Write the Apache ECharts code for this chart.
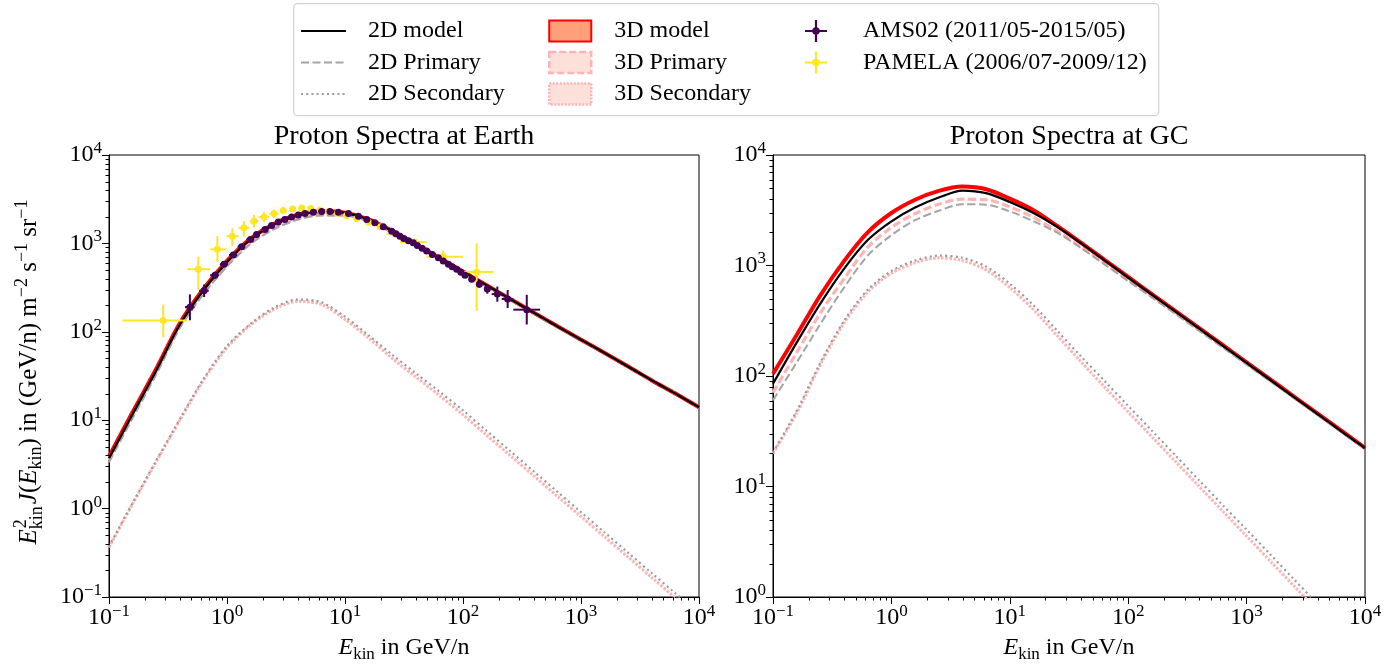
<!DOCTYPE html>
<html>
<head>
<meta charset="utf-8">
<script src="https://cdn.jsdelivr.net/npm/echarts@6/dist/echarts.min.js"></script>
<style>
  html, body { margin: 0; padding: 0; background: #fff; }
  #chart { width: 1395px; height: 668px; }
</style>
</head>
<body>
<div id="chart"></div>
<script>
// ---- model energy grid (GeV/n) ----
const energy = [0.1, 0.158, 0.251, 0.398, 0.631, 1, 1.585, 2.512, 3.981, 6.31, 10, 15.85, 25.12, 39.81, 63.1, 100, 158.5, 251.2, 398.1, 631, 1000, 1585, 2512, 3981, 6310, 10000];

// ---- proton spectra at Earth, E^2 J ----
const earth2DModel = [3.72, 11.6, 36.3, 120, 295, 617, 1109, 1641, 2089, 2291, 2213, 1862, 1380, 977, 684, 479, 335, 234, 164, 115, 81.3, 57.5, 40.3, 28.2, 20.0, 14.0];
const earth2DPrimary = [3.35, 10.45, 32.8, 109.8, 266, 548, 986, 1453, 1857, 2075, 2065, 1771, 1325, 943, 663, 466, 327, 229.5, 161.4, 113.5, 80.4, 57.0, 40.0, 28.0, 19.9, 13.9];
const earth2DSecondary = [0.372, 1.148, 3.467, 10.23, 29.2, 69.2, 123, 188, 232, 216, 148, 91.2, 55.0, 33.9, 21.1, 12.9, 7.59, 4.47, 2.63, 1.549, 0.912, 0.537, 0.316, 0.186, 0.110, 0.0646];
const earth3DModel = [3.89, 12.2, 38.0, 125, 305, 635, 1135, 1670, 2110, 2310, 2230, 1870, 1385, 980, 686, 480, 336, 235, 164.5, 115.3, 81.5, 57.6, 40.4, 28.2, 20.0, 14.0];
const earth3DPrimary = [3.53, 11.1, 34.6, 115, 277, 569, 1015, 1490, 1889, 2106, 2092, 1785, 1335, 949, 667, 468.5, 329, 231, 162.2, 113.9, 80.7, 57.1, 40.1, 28.0, 19.9, 13.9];
const earth3DSecondary = [0.363, 1.122, 3.388, 10.0, 28.2, 66.1, 120, 180, 221, 204, 138, 85.1, 50.1, 30.9, 19.05, 11.48, 6.76, 3.98, 2.344, 1.380, 0.813, 0.479, 0.282, 0.166, 0.0977, 0.0575];

// ---- proton spectra at the Galactic centre ----
const gc2DModel = [85.1, 199.5, 452, 933, 1698, 2512, 3350, 4121, 4764, 4519, 3758, 2985, 2239, 1592, 1112, 778, 546, 382, 268, 187.5, 131.2, 92.0, 64.4, 45.2, 31.6, 22.2];
const gc2DPrimary = [60.3, 131.8, 295, 631, 1230, 1884, 2570, 3126, 3589, 3548, 3090, 2512, 1982, 1442, 1021, 724, 514, 363, 256.4, 180.7, 127.1, 89.5, 63.0, 44.3, 31.1, 21.9];
const gc2DSecondary = [20.4, 47.9, 131.8, 316, 603, 891, 1109, 1230, 1175, 977, 684, 437, 257, 151, 90.2, 53.7, 32.0, 19.05, 11.35, 6.76, 4.07, 2.43, 1.445, 0.861, 0.513, 0.305];
const gc3DModel = [104.7, 234, 537, 1096, 1995, 2985, 3936, 4732, 5176, 4898, 4027, 3162, 2280, 1614, 1125, 787, 552, 386, 271, 190, 133, 93.1, 65.2, 45.7, 32.0, 22.4];
const gc3DPrimary = [70.8, 162.2, 371.5, 758.6, 1462, 2213, 2951, 3589, 3981, 3936, 3388, 2723, 2046, 1479, 1045, 740, 524, 370, 261, 183.7, 129.1, 91.0, 64.0, 45.0, 31.6, 22.2];
const gc3DSecondary = [19.95, 45.7, 125.9, 302, 575, 851, 1059, 1175, 1109, 912, 631, 398, 232, 135, 79.4, 47.3, 28.2, 16.8, 10.0, 5.96, 3.55, 2.11, 1.259, 0.75, 0.447, 0.266];

// ---- AMS02 proton data ----
const amsEnergy = [0.485, 0.64, 0.79, 0.944, 1.13, 1.33, 1.58, 1.78, 2.10, 2.39, 2.72, 3.09, 3.53, 4.02, 4.58, 5.39, 6.34, 7.46, 8.78, 10.7, 13.0, 15.3, 17.9, 21.1, 24.9, 27.0, 29.2, 31.5, 34.5, 37.9, 41.0, 45.0, 49.2, 55.0, 61.8, 68.0, 75.2, 81.0, 88.4, 96.0, 104, 118.5, 137.5, 160.7, 195.4, 239, 347];
const amsFlux = [190, 291, 437, 581, 740, 919, 1109, 1259, 1435, 1592, 1750, 1862, 1995, 2099, 2173, 2249, 2291, 2291, 2249, 2173, 2028, 1862, 1710, 1542, 1374, 1288, 1208, 1135, 1072, 1019, 944, 881, 820, 750, 690, 631, 581, 543, 511, 473, 437, 394, 346, 304, 267, 235, 178];
const amsEnergyLow = [0.44, 0.58, 0.72, 0.87, 1.04, 1.23, 1.46, 1.70, 1.96, 2.24, 2.56, 2.91, 3.33, 3.80, 4.33, 5.09, 5.98, 7.04, 8.30, 10.1, 12.3, 14.5, 16.9, 19.9, 23.5, 26.0, 28.1, 30.3, 33.2, 36.4, 39.4, 43.2, 47.2, 52.8, 59.3, 65.3, 72.2, 77.8, 84.9, 92.2, 100, 113, 131, 152, 175, 213, 267];
const amsEnergyHigh = [0.53, 0.70, 0.86, 1.02, 1.22, 1.43, 1.70, 1.90, 2.24, 2.54, 2.88, 3.27, 3.73, 4.25, 4.84, 5.69, 6.70, 7.88, 9.26, 11.3, 13.7, 16.1, 18.9, 22.3, 26.3, 28.0, 30.3, 32.7, 35.8, 39.4, 42.6, 46.8, 51.2, 57.2, 64.3, 70.7, 78.2, 84.2, 91.9, 99.8, 108, 124, 144, 170, 220, 267, 450];
const amsFluxLow = [135, 247, 400, 550, 710, 890, 1080, 1230, 1405, 1560, 1715, 1825, 1955, 2060, 2130, 2205, 2245, 2245, 2205, 2130, 1985, 1825, 1675, 1510, 1345, 1260, 1180, 1110, 1045, 990, 920, 855, 795, 725, 665, 606, 556, 518, 485, 447, 410, 365, 315, 270, 219, 186, 121];
const amsFluxHigh = [265, 343, 477, 614, 770, 950, 1140, 1290, 1465, 1625, 1785, 1900, 2035, 2140, 2215, 2295, 2340, 2340, 2295, 2215, 2070, 1900, 1745, 1575, 1405, 1315, 1235, 1160, 1100, 1045, 970, 905, 845, 775, 715, 656, 606, 568, 537, 499, 464, 423, 377, 338, 325, 297, 262];

// ---- PAMELA proton data ----
const pamelaEnergy = [0.288, 0.571, 0.828, 1.11, 1.39, 1.69, 2.06, 2.50, 3.0, 3.6, 4.3, 5.12, 6.14, 7.22, 8.61, 10.3, 12.6, 15.8, 19.8, 26.5, 39.2, 68, 130.6];
const pamelaFlux = [134, 511, 857, 1208, 1500, 1782, 1995, 2173, 2350, 2455, 2518, 2480, 2390, 2290, 2190, 2065, 1910, 1738, 1542, 1285, 1035, 708, 476];
const pamelaEnergyLow = [0.13, 0.46, 0.72, 0.99, 1.25, 1.55, 1.85, 2.28, 2.9, 3.5, 4.15, 4.95, 5.95, 7.0, 8.35, 10.0, 12.2, 15.3, 19.2, 22.5, 29.2, 49.2, 100.7];
const pamelaEnergyHigh = [0.46, 0.72, 0.99, 1.25, 1.55, 1.85, 2.28, 2.74, 3.1, 3.7, 4.45, 5.3, 6.35, 7.45, 8.9, 10.6, 13.0, 16.3, 20.4, 29.2, 49.2, 100.7, 180.7];
const pamelaFluxLow = [87, 299, 617, 930, 1189, 1500, 1750, 1950, 2280, 2380, 2440, 2405, 2320, 2220, 2125, 2000, 1850, 1680, 1490, 1180, 950, 600, 173];
const pamelaFluxHigh = [203, 708, 1208, 1480, 1782, 2100, 2270, 2420, 2420, 2530, 2595, 2555, 2460, 2360, 2255, 2130, 1970, 1800, 1595, 1400, 1120, 830, 1000];

// ---- axes ----
const xTickExponents = [-1, 0, 1, 2, 3, 4];
const yTickExponentsEarth = [-1, 0, 1, 2, 3, 4];
const yTickExponentsGC = [0, 1, 2, 3, 4];
const minorMantissas = [2, 3, 4, 5, 6, 7, 8, 9];

const FONT = '"Liberation Serif", "DejaVu Serif", serif';
const TICK_SIZE = 24, SUP_SIZE = 17;
const YT_SIZE = 25, YT_SMALL = 18;

const C_BLACK = '#000000';
const C_GRAY = '#a4a4a4';
const C_GRAY_DOT = '#9a9a9a';
const C_RED = '#ff0000';
const C_PINK = '#ffb4b4';
const C_AMS = '#440154';
const C_PAMELA = '#fde725';

function expText(v) {
  const e = Math.round(Math.log10(v));
  return e < 0 ? '\u2212' + Math.abs(e) : String(e);
}

const tickRich = {
  b: { fontFamily: FONT, fontSize: TICK_SIZE, lineHeight: 30, color: '#000' },
  s: { fontFamily: FONT, fontSize: SUP_SIZE, lineHeight: 17, verticalAlign: 'top', color: '#000' }
};

function logAxis(gridIndex, exps, isX) {
  const ax = {
    type: 'log', logBase: 10, gridIndex,
    min: Math.pow(10, exps[0]), max: Math.pow(10, exps[exps.length - 1]),
    splitNumber: exps.length - 1,
    axisLine: { show: true, onZero: false, lineStyle: { color: '#000', width: 1 } },
    axisTick: { show: true, length: 7, inside: false, lineStyle: { color: '#000', width: 1 } },
    splitLine: { show: false },
    minorTick: { show: false },
    axisLabel: {
      show: true, margin: isX ? 6 : 7, interval: 0, hideOverlap: false,
      showMinLabel: true, showMaxLabel: true,
      formatter: v => '{b|10}{s|' + expText(v) + '}',
      rich: tickRich
    }
  };
  if (isX) {
    ax.name = '{it|E}{sub|kin}{n| in GeV/n}';
    ax.nameLocation = 'middle';
    ax.nameGap = 36;
    ax.nameTextStyle = {
      rich: {
        it: { fontFamily: FONT, fontSize: TICK_SIZE, fontStyle: 'italic', lineHeight: 30, color: '#000' },
        sub: { fontFamily: FONT, fontSize: SUP_SIZE, lineHeight: 17, verticalAlign: 'bottom', color: '#000' },
        n: { fontFamily: FONT, fontSize: TICK_SIZE, lineHeight: 30, color: '#000' }
      }
    };
  }
  return ax;
}

function minorTicks(gridIdx, dim, exps, fixedValue) {
  const vals = [];
  exps.slice(0, -1).forEach(e => minorMantissas.forEach(m => vals.push(m * Math.pow(10, e))));
  return {
    type: 'custom', xAxisIndex: gridIdx, yAxisIndex: gridIdx, silent: true, clip: false, z: 10,
    data: vals.map(v => dim === 'x' ? [v, fixedValue] : [fixedValue, v]),
    renderItem: (params, api) => {
      const p = api.coord([api.value(0), api.value(1)]);
      const shape = dim === 'x'
        ? { x1: Math.round(p[0]) + 0.5, y1: p[1], x2: Math.round(p[0]) + 0.5, y2: p[1] + 3.5 }
        : { x1: p[0] - 3.5, y1: Math.round(p[1]) + 0.5, x2: p[0], y2: Math.round(p[1]) + 0.5 };
      return { type: 'line', shape, style: { stroke: '#000', lineWidth: 1 } };
    }
  };
}

function curve(name, values, gridIdx, color, width, type, z) {
  return {
    name, type: 'line', xAxisIndex: gridIdx, yAxisIndex: gridIdx,
    data: energy.map((e, i) => [e, values[i]]),
    symbol: 'none', showSymbol: false, smooth: 0.3, clip: true,
    lineStyle: { color, width, type, cap: 'butt' },
    itemStyle: { color }, z, silent: true
  };
}

function errorBars(E, F, Elo, Ehi, Flo, Fhi, color, z) {
  return {
    type: 'custom', xAxisIndex: 0, yAxisIndex: 0, silent: true, clip: true, z,
    encode: { x: 0, y: 1 },
    data: E.map((e, i) => [e, F[i], Elo[i], Ehi[i], Flo[i], Fhi[i]]),
    renderItem: (params, api) => {
      const c = api.coord([api.value(0), api.value(1)]);
      const l = api.coord([api.value(2), api.value(1)]);
      const r = api.coord([api.value(3), api.value(1)]);
      const b = api.coord([api.value(0), api.value(4)]);
      const t = api.coord([api.value(0), api.value(5)]);
      return {
        type: 'group', children: [
          { type: 'line', shape: { x1: l[0], y1: c[1], x2: r[0], y2: c[1] }, style: { stroke: color, lineWidth: 2 } },
          { type: 'line', shape: { x1: c[0], y1: b[1], x2: c[0], y2: t[1] }, style: { stroke: color, lineWidth: 2 } }
        ]
      };
    }
  };
}

function points(name, E, F, color, z) {
  return {
    name, type: 'scatter', xAxisIndex: 0, yAxisIndex: 0,
    data: E.map((e, i) => [e, F[i]]),
    symbol: 'circle', symbolSize: 7, itemStyle: { color, opacity: 1 }, z, silent: true, clip: true
  };
}

const DASH = [8, 3.5];
const DOT_GRAY = [2, 3.2];
const DOT_PINK = [2.5, 1.6];

const series = [];
[[0, earth3DModel, earth3DPrimary, earth3DSecondary, earth2DModel, earth2DPrimary, earth2DSecondary],
 [1, gc3DModel, gc3DPrimary, gc3DSecondary, gc2DModel, gc2DPrimary, gc2DSecondary]].forEach(p => {
  const g = p[0];
  series.push(curve('3D Secondary', p[3], g, C_PINK, 3, DOT_PINK, 2));
  series.push(curve('3D Primary', p[2], g, C_PINK, 3.2, DASH, 2));
  series.push(curve('3D model', p[1], g, C_RED, 4, 'solid', 3));
  series.push(curve('2D Secondary', p[6], g, C_GRAY_DOT, 2.2, DOT_GRAY, 4));
  series.push(curve('2D Primary', p[5], g, C_GRAY, 2, DASH, 4));
  series.push(curve('2D model', p[4], g, C_BLACK, 2.2, 'solid', 5));
});
series.push(errorBars(pamelaEnergy, pamelaFlux, pamelaEnergyLow, pamelaEnergyHigh, pamelaFluxLow, pamelaFluxHigh, C_PAMELA, 6));
series.push(points('PAMELA (2006/07-2009/12)', pamelaEnergy, pamelaFlux, C_PAMELA, 6));
series.push(errorBars(amsEnergy, amsFlux, amsEnergyLow, amsEnergyHigh, amsFluxLow, amsFluxHigh, C_AMS, 7));
series.push(points('AMS02 (2011/05-2015/05)', amsEnergy, amsFlux, C_AMS, 7));
series.push(minorTicks(0, 'x', xTickExponents, Math.pow(10, yTickExponentsEarth[0])));
series.push(minorTicks(0, 'y', yTickExponentsEarth, Math.pow(10, xTickExponents[0])));
series.push(minorTicks(1, 'x', xTickExponents, Math.pow(10, yTickExponentsGC[0])));
series.push(minorTicks(1, 'y', yTickExponentsGC, Math.pow(10, xTickExponents[0])));

// ---- legend ----
const legendText = { fontFamily: FONT, fontSize: 24, lineHeight: 24, color: '#000' };
// plus-shaped error-bar glyph with a round marker, both wound the same way
const CROSS_PATH = 'path://M9,0h2v9h9v2h-9v9h-2v-9h-9v-2h9z M6.6,10a3.4,3.4 0 1,1 6.8,0a3.4,3.4 0 1,1 -6.8,0z';
const hiddenMarker = { opacity: 0 };
const legends = [
  {
    left: 300, top: 19, orient: 'vertical', itemGap: 7.5, itemWidth: 45, itemHeight: 14, padding: 0,
    selectedMode: false, textStyle: Object.assign({ padding: [0, 0, 0, 17] }, legendText),
    itemStyle: hiddenMarker,
    data: [
      { name: '2D model', itemStyle: hiddenMarker },
      { name: '2D Primary', itemStyle: hiddenMarker },
      { name: '2D Secondary', itemStyle: hiddenMarker }
    ]
  },
  {
    left: 548, top: 19, orient: 'vertical', itemGap: 7.5, itemWidth: 42, itemHeight: 21, padding: 0,
    selectedMode: false, textStyle: Object.assign({ padding: [0, 0, 0, 18] }, legendText),
    data: [
      { name: '3D model', icon: 'rect', itemStyle: { color: '#ffa07a', borderColor: C_RED, borderWidth: 2 } },
      { name: '3D Primary', icon: 'rect', itemStyle: { color: '#fde0da', borderColor: C_PINK, borderWidth: 2.5, borderType: [7, 3] } },
      { name: '3D Secondary', icon: 'rect', itemStyle: { color: '#fde0da', borderColor: C_PINK, borderWidth: 2.5, borderType: [2, 1.5] } }
    ]
  },
  {
    left: 805, top: 19, orient: 'vertical', itemGap: 7.5, itemWidth: 22, itemHeight: 22, padding: 0,
    selectedMode: false, textStyle: Object.assign({ padding: [0, 0, 0, 31] }, legendText),
    data: [
      { name: 'AMS02 (2011/05-2015/05)', icon: CROSS_PATH, itemStyle: { color: C_AMS } },
      { name: 'PAMELA (2006/07-2009/12)', icon: CROSS_PATH, itemStyle: { color: C_PAMELA } }
    ]
  }
];

// ---- y-axis title, built from pieces so that the exponent sits above the subscript ----
const measureCtx = document.createElement('canvas').getContext('2d');
function textWidth(str, size, italic) {
  measureCtx.font = (italic ? 'italic ' : '') + size + 'px "Liberation Serif"';
  return measureCtx.measureText(str).width;
}
const yTitleTail = [
  ['it', 'J'], ['n', '('], ['it', 'E'], ['sub', 'kin'], ['n', ') in (GeV/n) m'],
  ['sup', '\u22122'], ['n', ' s'], ['sup', '\u22121'], ['n', ' sr'], ['sup', '\u22121']
];
const wE = textWidth('E', YT_SIZE, true);
const wKin = textWidth('kin', YT_SMALL, false);
const wTail = yTitleTail.reduce((s, t) => s + textWidth(t[1], (t[0] === 'sub' || t[0] === 'sup') ? YT_SMALL : YT_SIZE, t[0] === 'it'), 0);
const wTotal = wE + wKin + 2 + wTail;
const x0 = -wTotal / 2;
const titleRich = {
  it: { fontFamily: FONT, fontSize: YT_SIZE, fontStyle: 'italic', lineHeight: 32, fill: '#000' },
  n: { fontFamily: FONT, fontSize: YT_SIZE, lineHeight: 32, fill: '#000' },
  sub: { fontFamily: FONT, fontSize: YT_SMALL, lineHeight: 18, verticalAlign: 'bottom', fill: '#000' },
  sup: { fontFamily: FONT, fontSize: YT_SMALL, lineHeight: 18, verticalAlign: 'top', fill: '#000' }
};

const graphic = [
  {
    type: 'rect', left: 293, top: 3, z: 0, silent: true,
    shape: { width: 865, height: 112, r: 4 },
    style: { fill: 'rgba(255,255,255,0.8)', stroke: '#d4d4d4', lineWidth: 1.3 }
  },
  {
    type: 'text', x: 404, y: 137, silent: true,
    style: { text: 'Proton Spectra at Earth', fontFamily: FONT, fontSize: 28, fill: '#000', align: 'center', verticalAlign: 'middle' }
  },
  {
    type: 'text', x: 1069, y: 137, silent: true,
    style: { text: 'Proton Spectra at GC', fontFamily: FONT, fontSize: 28, fill: '#000', align: 'center', verticalAlign: 'middle' }
  },
  {
    type: 'group', x: 29, y: 372, rotation: Math.PI / 2, silent: true,
    children: [
      { type: 'text', x: x0, y: 0, style: { text: 'E', fontFamily: FONT, fontSize: YT_SIZE, fontStyle: 'italic', fill: '#000', align: 'left', verticalAlign: 'middle' } },
      { type: 'text', x: x0 + wE + 1, y: -8, style: { text: '2', fontFamily: FONT, fontSize: YT_SMALL, fill: '#000', align: 'left', verticalAlign: 'middle' } },
      { type: 'text', x: x0 + wE, y: 8, style: { text: 'kin', fontFamily: FONT, fontSize: YT_SMALL, fill: '#000', align: 'left', verticalAlign: 'middle' } },
      {
        type: 'text', x: x0 + wE + wKin + 2, y: 0,
        style: {
          text: yTitleTail.map(t => '{' + t[0] + '|' + t[1] + '}').join(''),
          rich: titleRich, fill: '#000', align: 'left', verticalAlign: 'middle'
        }
      }
    ]
  }
];

const option = {
  backgroundColor: '#fff',
  animation: false,
  legend: legends,
  graphic,
  grid: [
    { left: 109, top: 155, width: 590, height: 445, show: true, borderColor: '#000', borderWidth: 1, backgroundColor: 'transparent' },
    { left: 773, top: 155, width: 592, height: 445, show: true, borderColor: '#000', borderWidth: 1, backgroundColor: 'transparent' }
  ],
  xAxis: [logAxis(0, xTickExponents, true), logAxis(1, xTickExponents, true)],
  yAxis: [logAxis(0, yTickExponentsEarth, false), logAxis(1, yTickExponentsGC, false)],
  series
};

const chart = echarts.init(document.getElementById('chart'), null, { renderer: 'canvas' });
chart.setOption(option);
</script>
</body>
</html>
